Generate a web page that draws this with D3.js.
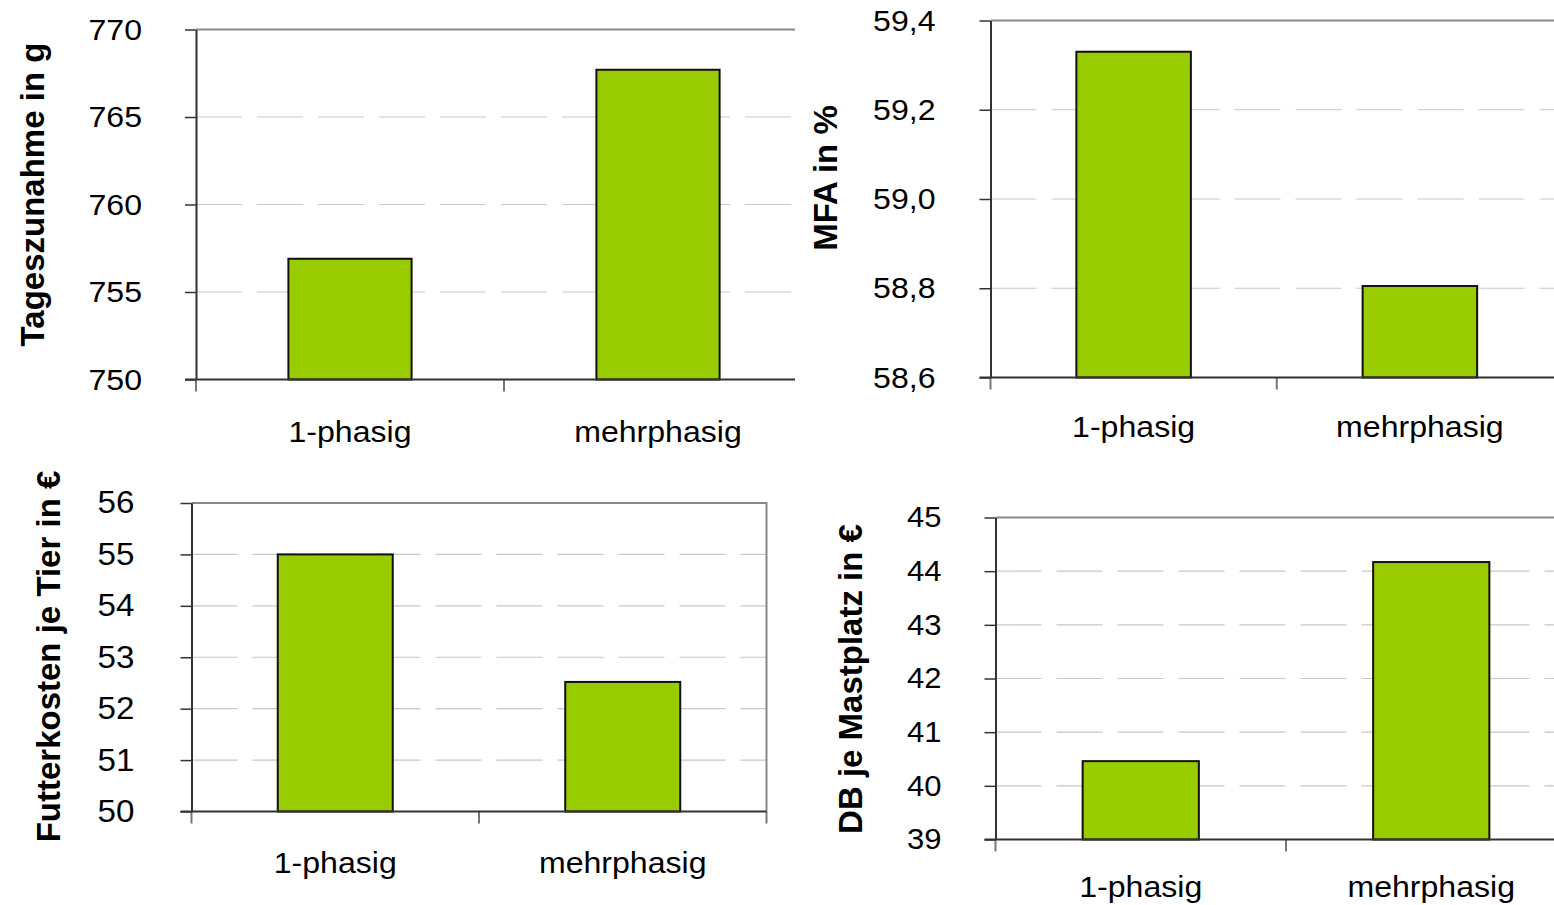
<!DOCTYPE html>
<html>
<head>
<meta charset="utf-8">
<script src="https://cdn.jsdelivr.net/npm/d3@7"></script>
<style>
body { margin: 0; background: #fff; }
text { font-family: "Liberation Sans", Arial, sans-serif; fill: #000; }
</style>
</head>
<body>
<svg id="chart" width="1554" height="905"></svg>
<script>
var CATEGORIES = ["1-phasig", "mehrphasig"];

// values
var TAGESZUNAHME = [756.9, 767.7];
var MFA = [59.33, 58.805];
var FUTTERKOSTEN = [55.0, 52.52];
var DB_MASTPLATZ = [40.46, 44.17];

// y tick labels
var TICKS_TAGES = [750, 755, 760, 765, 770];
var TICKS_MFA = [58.6, 58.8, 59.0, 59.2, 59.4];
var TICKS_FUTTER = [50, 51, 52, 53, 54, 55, 56];
var TICKS_DB = [39, 40, 41, 42, 43, 44, 45];

var TITLES = ["Tageszunahme in g", "MFA in %", "Futterkosten je Tier in \u20ac", "DB je Mastplatz in \u20ac"];

var svg = d3.select("#chart");
var STRETCH = 1.07;

// clip for the top-left panel, the top-right one sits over its right end
svg.append("defs").append("clipPath").attr("id", "clip1")
    .append("rect").attr("x", 0).attr("y", 0).attr("width", 795).attr("height", 460);

var fmt_int = d3.format("d");
function fmt_comma(d) { return d3.format(".1f")(d).replace(".", ","); }

function draw_panel(p) {
    var g = svg.append("g");
    if (p.clip) g.attr("clip-path", "url(#" + p.clip + ")");

    var x = d3.scaleBand().domain(CATEGORIES).range([p.left, p.right]);
    var y = d3.scaleLinear()
        .domain([p.ticks[0], p.ticks[p.ticks.length - 1]])
        .range([p.bottom, p.top]);

    // dashed grid
    g.selectAll(".grid").data(p.ticks.slice(1, -1)).enter()
        .append("line")
        .attr("x1", p.left).attr("x2", p.right)
        .attr("y1", function(d) { return y(d); })
        .attr("y2", function(d) { return y(d); })
        .attr("stroke", "#c8c8c8")
        .attr("stroke-width", 1.2)
        .attr("stroke-dasharray", "46,15");

    // top + right frame
    g.append("path")
        .attr("d", "M" + p.left + "," + p.top + "H" + p.right + "V" + p.bottom)
        .attr("fill", "none")
        .attr("stroke", "#888")
        .attr("stroke-width", 2);

    // bars
    g.selectAll(".bar").data(p.values).enter()
        .append("rect")
        .attr("x", function(d, i) { return x(CATEGORIES[i]) + x.bandwidth() * 0.3; })
        .attr("width", x.bandwidth() * 0.4)
        .attr("y", function(d) { return y(d); })
        .attr("height", function(d) { return p.bottom - y(d); })
        .attr("fill", "#99cc00")
        .attr("stroke", "#111")
        .attr("stroke-width", 2);

    // category boundary ticks under the axis
    var bounds = [p.left, p.left + x.step(), p.right];
    g.selectAll(".ctick").data(bounds).enter()
        .append("line")
        .attr("x1", function(d) { return d; })
        .attr("x2", function(d) { return d; })
        .attr("y1", p.bottom).attr("y2", p.bottom + 12)
        .attr("stroke", "#777")
        .attr("stroke-width", 2);

    // bottom axis line
    g.append("line")
        .attr("x1", p.left - 11).attr("x2", p.right)
        .attr("y1", p.bottom).attr("y2", p.bottom)
        .attr("stroke", "#333")
        .attr("stroke-width", 2);

    // y axis
    var yAxis = d3.axisLeft(y)
        .tickValues(p.ticks)
        .tickSize(11)
        .tickSizeOuter(0)
        .tickPadding(p.pad)
        .tickFormat(p.fmt);
    var ya = g.append("g")
        .attr("transform", "translate(" + p.left + ",0)")
        .call(yAxis);
    ya.select(".domain").attr("stroke", "#333").attr("stroke-width", 2);
    ya.selectAll(".tick line").attr("stroke", "#333").attr("stroke-width", 1.5);
    ya.selectAll(".tick text")
        .attr("font-size", p.tickSize)
        .attr("font-family", "Liberation Sans, Arial, sans-serif")
        .attr("fill", "#000")
        .attr("x", -(11 + p.pad) / STRETCH)
        .attr("transform", "scale(" + STRETCH + ",1)");

    // category labels
    g.selectAll(".clabel").data(CATEGORIES).enter()
        .append("text")
        .attr("transform", function(d) {
            return "translate(" + (x(d) + x.bandwidth() / 2) + "," + p.labelY + ") scale(" + STRETCH + ",1)";
        })
        .attr("text-anchor", "middle")
        .attr("font-size", 30)
        .text(function(d) { return d; });

    // axis title
    svg.append("text")
        .attr("transform", "translate(" + p.titleX + "," + p.titleY + ") rotate(-90)")
        .attr("text-anchor", "middle")
        .attr("font-size", 33)
        .attr("font-weight", "bold")
        .text(p.title);
}

draw_panel({
    values: TAGESZUNAHME, ticks: TICKS_TAGES, fmt: fmt_int, title: TITLES[0],
    left: 196, right: 812, top: 29.5, bottom: 379.5, clip: "clip1",
    pad: 43, tickSize: 30, labelY: 441.5, titleX: 43.5, titleY: 194.5
});
draw_panel({
    values: MFA, ticks: TICKS_MFA, fmt: fmt_comma, title: TITLES[1],
    left: 990.5, right: 1563, top: 20.5, bottom: 377.5,
    pad: 44, tickSize: 30, labelY: 437, titleX: 836.5, titleY: 178
});
draw_panel({
    values: FUTTERKOSTEN, ticks: TICKS_FUTTER, fmt: fmt_int, title: TITLES[2],
    left: 191.5, right: 766.5, top: 503, bottom: 811.5,
    pad: 46, tickSize: 31, labelY: 873, titleX: 60, titleY: 656.5
});
draw_panel({
    values: DB_MASTPLATZ, ticks: TICKS_DB, fmt: fmt_int, title: TITLES[3],
    left: 995.5, right: 1576.5, top: 517.5, bottom: 839.5,
    pad: 43, tickSize: 29, labelY: 896.5, titleX: 861.5, titleY: 679
});
</script>
</body>
</html>
